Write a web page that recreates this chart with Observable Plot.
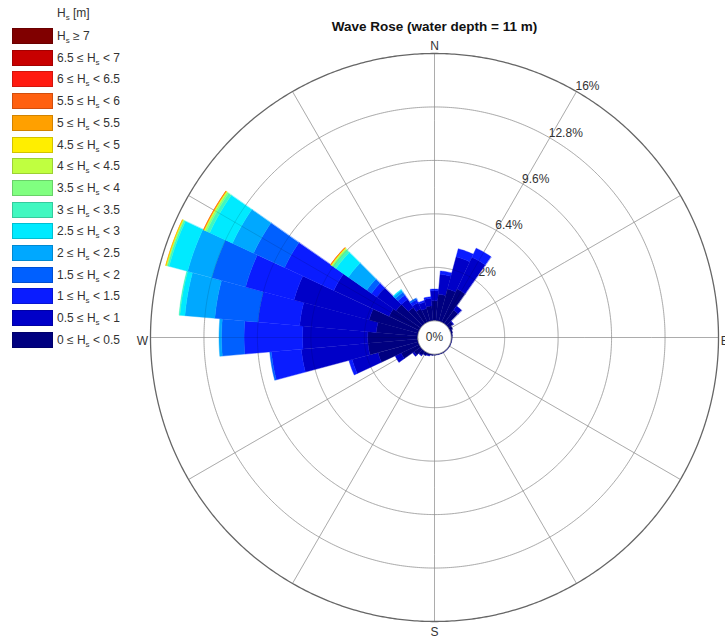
<!DOCTYPE html>
<html><head><meta charset="utf-8">
<script src="https://cdn.jsdelivr.net/npm/d3@7"></script>
<script src="https://cdn.jsdelivr.net/npm/@observablehq/plot@0.6"></script>
<style>
body{margin:0;background:#fff;font-family:"Liberation Sans",Arial,sans-serif;}
#wrap{position:relative;width:725px;height:643px;overflow:hidden;background:#fff;}
#chart{position:absolute;left:0;top:0;}
#legend{position:absolute;left:0;top:0;font-size:12px;color:#333;}
.row{position:absolute;left:12px;height:16px;}
.sw{position:absolute;left:0;top:0;width:41px;height:16px;box-sizing:border-box;border:1px solid rgba(0,0,0,0.18);}
.lb{position:absolute;left:45px;top:0;line-height:16px;white-space:nowrap;}
.hd{position:absolute;left:57px;top:5px;line-height:16px;white-space:nowrap;}
sub{font-size:8px;vertical-align:-3px;line-height:0;}
</style></head><body><div id="wrap"><div id="chart"></div><div id="legend"></div></div>
<script>
// ---- data ----
const directions = [0,10,20,30,40,50,60,70,80,90,100,110,120,130,140,150,160,170,180,190,200,210,220,230,240,250,260,270,280,290,300,310,320,330,340,350];
const binLabels = ["0-0.5","0.5-1","1-1.5","1.5-2","2-2.5","2.5-3","3-3.5","3.5-4","4-4.5","4.5-5","5-5.5","5.5-6","6-6.5","6.5-7",">=7"];
const binColors = ["#000080","#0000c8","#0a1cff","#0060ff","#00a8ff","#00eaff","#40f8c0","#80ff80","#c0ff40","#ffee00","#ffa000","#ff6010","#ff1a10","#c80000","#800000"];
const legendText = ["0 ≤ H<sub>s</sub> &lt; 0.5","0.5 ≤ H<sub>s</sub> &lt; 1","1 ≤ H<sub>s</sub> &lt; 1.5","1.5 ≤ H<sub>s</sub> &lt; 2","2 ≤ H<sub>s</sub> &lt; 2.5","2.5 ≤ H<sub>s</sub> &lt; 3","3 ≤ H<sub>s</sub> &lt; 3.5","3.5 ≤ H<sub>s</sub> &lt; 4","4 ≤ H<sub>s</sub> &lt; 4.5","4.5 ≤ H<sub>s</sub> &lt; 5","5 ≤ H<sub>s</sub> &lt; 5.5","5.5 ≤ H<sub>s</sub> &lt; 6","6 ≤ H<sub>s</sub> &lt; 6.5","6.5 ≤ H<sub>s</sub> &lt; 7","H<sub>s</sub> ≥ 7"];

// frequency (%) per direction, one array per Hs bin
const hs0_05  = [1.2,1.6,2.0,2.2,1.0,0.35,0.2,0.12,0.08,0.06,0.05,0.05,0.05,0.05,0.05,0.05,0.05,0.05,0.06,0.08,0.12,0.18,0.3,0.5,1.2,2.5,3.0,3.0,2.5,3.05,2.0,1.8,1.2,0.9,0.8,0.9];
const hs05_1  = [0.6,1.2,2.0,2.1,0.3,0.05,0,0,0,0,0,0,0,0,0,0,0,0,0,0,0.03,0.02,0.05,0.1,0.4,1.6,4.0,3.9,4.6,4.65,3.65,1.4,0.6,0.4,0.4,0.45];
const hs1_15  = [0.1,0.2,0.5,0.6,0,0,0,0,0,0,0,0,0,0,0,0,0,0,0,0,0,0,0,0,0,0.2,1.8,3.5,2.5,3.0,3.25,0.4,0.3,0.2,0.1,0.1];
const hs15_2  = [0,0,0,0,0,0,0,0,0,0,0,0,0,0,0,0,0,0,0,0,0,0,0,0,0,0,0.1,1.35,2.6,2.1,2.05,0.35,0.2,0.1,0,0];
const hs2_25  = [0,0,0,0,0,0,0,0,0,0,0,0,0,0,0,0,0,0,0,0,0,0,0,0,0,0,0,0.15,1.8,1.5,1.4,1.35,0.15,0,0,0];
const hs25_3  = [0,0,0,0,0,0,0,0,0,0,0,0,0,0,0,0,0,0,0,0,0,0,0,0,0,0,0,0,0.3,1.15,1.5,0.9,0.05,0,0,0];
const hs3_35  = [0,0,0,0,0,0,0,0,0,0,0,0,0,0,0,0,0,0,0,0,0,0,0,0,0,0,0,0,0.05,0.1,0.2,0.2,0,0,0,0];
const hs35_4  = [0,0,0,0,0,0,0,0,0,0,0,0,0,0,0,0,0,0,0,0,0,0,0,0,0,0,0,0,0,0.05,0.1,0.1,0,0,0,0];
const hs4_45  = [0,0,0,0,0,0,0,0,0,0,0,0,0,0,0,0,0,0,0,0,0,0,0,0,0,0,0,0,0,0.03,0.05,0.04,0,0,0,0];
const hs45_5  = [0,0,0,0,0,0,0,0,0,0,0,0,0,0,0,0,0,0,0,0,0,0,0,0,0,0,0,0,0,0.02,0.03,0.03,0,0,0,0];
const hs5_55  = [0,0,0,0,0,0,0,0,0,0,0,0,0,0,0,0,0,0,0,0,0,0,0,0,0,0,0,0,0,0.01,0.02,0.02,0,0,0,0];
const hs55_6  = [0,0,0,0,0,0,0,0,0,0,0,0,0,0,0,0,0,0,0,0,0,0,0,0,0,0,0,0,0,0,0.01,0.01,0,0,0,0];
const hs6_65  = [0,0,0,0,0,0,0,0,0,0,0,0,0,0,0,0,0,0,0,0,0,0,0,0,0,0,0,0,0,0,0,0,0,0,0,0];
const hs65_7  = [0,0,0,0,0,0,0,0,0,0,0,0,0,0,0,0,0,0,0,0,0,0,0,0,0,0,0,0,0,0,0,0,0,0,0,0];
const hs7     = [0,0,0,0,0,0,0,0,0,0,0,0,0,0,0,0,0,0,0,0,0,0,0,0,0,0,0,0,0,0,0,0,0,0,0,0];
const series = [hs0_05,hs05_1,hs1_15,hs15_2,hs2_25,hs25_3,hs3_35,hs35_4,hs4_45,hs45_5,hs5_55,hs55_6,hs6_65,hs65_7,hs7];

const ringTicks = [3.2, 6.4, 9.6, 12.8, 16];
const ringLabels = ["3.2%", "6.4%", "9.6%", "12.8%", "16%"];
const spokeAngles = [0,30,60,90,120,150,180,210,240,270,300,330];
const compassBearings = [0, 90, 180, 270];
const compassLabels = ["N", "E", "S", "W"];
const title = "Wave Rose (water depth = 11 m)";

// ---- polar helpers (radial value -> geo latitude, bearing -> longitude) ----
const HOLE = 1.0, SC = 5, MAXR = 16, HALF = 5;
const rdeg = v => (HOLE + v) * SC;
const lat = v => 90 - rdeg(v);
const lon = b => 180 - b;

function sectorRing(dir, c0, c1) {
  const inner = [], outer = [];
  for (let k = 0; k <= 10; k++) inner.push([lon(dir + HALF - k), lat(c0)]);
  for (let k = 0; k <= 10; k++) outer.push([lon(dir - HALF + k), lat(c1)]);
  return [...inner, ...outer, inner[0]];
}
const features = [];
directions.forEach((dir, j) => {
  let cum = 0;
  series.forEach((s, i) => {
    const v = s[j];
    if (v > 0) {
      features.push({type: "Feature", properties: {bin: binLabels[i]},
        geometry: {type: "Polygon", coordinates: [sectorRing(dir, cum, cum + v)]}});
      cum += v;
    }
  });
});

const circle = v => d3.geoCircle().center([0, 90]).radius(rdeg(v)).precision(0.5)();

const gridMarks = (stroke, op) => [
  Plot.geo(ringTicks.slice(0, -1).map(circle), {stroke, strokeOpacity: op, strokeWidth: 1, fill: "none"}),
  Plot.link(spokeAngles, {x1: b => lon(b), y1: () => lat(0), x2: b => lon(b), y2: () => lat(MAXR), stroke, strokeOpacity: op, strokeWidth: 1})
];

const compassMark = (i, opts) => Plot.text([compassBearings[i]], {
  x: b => lon(b), y: () => lat(MAXR - 0.1), text: () => compassLabels[i], fontSize: 12, fill: "#333", ...opts});

const chart = Plot.plot({
  width: 725, height: 643,
  marginLeft: 150, marginRight: 7, marginTop: 53, marginBottom: 22,
  projection: {type: "azimuthal-equidistant", rotate: [0, -90], domain: circle(MAXR), inset: 0},
  color: {type: "ordinal", domain: binLabels, range: binColors},
  style: {fontFamily: "'Liberation Sans', Arial, sans-serif", background: "transparent", overflow: "visible"},
  marks: [
    ...gridMarks("#c4c4c4", 1),
    Plot.text(ringTicks, {x: () => lon(30), y: t => lat(t), text: (t, i) => ringLabels[i], textAnchor: "start", dx: -1, dy: -5, fontSize: 12, fill: "#333"}),
    Plot.geo(features, {fill: d => d.properties.bin, stroke: d => d.properties.bin, strokeWidth: 0.4}),
    ...gridMarks("#000", 0.12),
    Plot.geo([circle(MAXR)], {stroke: "#666", strokeWidth: 1.3, fill: "none"}),
    Plot.geo([circle(0)], {stroke: "#888", strokeWidth: 1, fill: "white"}),
    Plot.text(["0%"], {x: () => 0, y: () => 90, fontSize: 12, fill: "#333"}),
    compassMark(0, {dy: -9}),
    compassMark(1, {textAnchor: "start", dx: 4, dy: 4}),
    compassMark(2, {dy: 12}),
    compassMark(3, {textAnchor: "end", dx: -4, dy: 4}),
    Plot.text([title], {frameAnchor: "top", dy: -32, fontSize: 13.5, fontWeight: "bold", fill: "#111"})
  ]
});
document.getElementById("chart").appendChild(chart);

// ---- legend ----
const lg = document.getElementById("legend");
let html = '<div class="hd">H<sub>s</sub> [m]</div>';
for (let k = 0; k < binLabels.length; k++) {
  const i = binLabels.length - 1 - k;
  const top = 28 + k * 21.7;
  html += `<div class="row" style="top:${top}px"><div class="sw" style="background:${binColors[i]}"></div><div class="lb">${legendText[i]}</div></div>`;
}
lg.innerHTML = html;
</script></body></html>
